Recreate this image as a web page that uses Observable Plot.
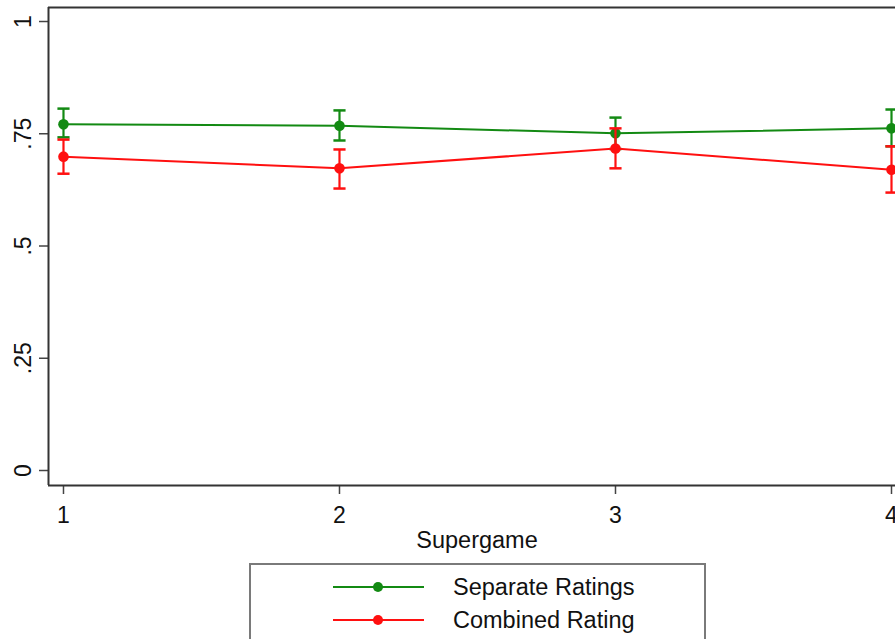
<!DOCTYPE html>
<html>
<head>
<meta charset="utf-8">
<script src="https://cdn.jsdelivr.net/npm/d3@7"></script>
<script src="https://cdn.jsdelivr.net/npm/@observablehq/plot@0.6"></script>
<style>
  html, body { margin: 0; padding: 0; background: white; }
  body { width: 895px; height: 639px; overflow: hidden; font-family: "Liberation Sans", Arial, sans-serif; }
  #legend { margin-left: 249px; margin-top: 8px; width: 457px; height: 100px; border: 2px solid #7a7a7a; box-sizing: border-box; position: relative; }
  .item { position: absolute; left: 82px; height: 30px; display: flex; align-items: center; font-size: 23.5px; color: #111; }
  .item svg { margin-right: 29px; }
</style>
</head>
<body>
<div id="chart"></div>
<div id="legend"></div>
<script>
const supergame = [1, 2, 3, 4];
const seriesNames = ["Separate Ratings", "Combined Rating"];
const seriesColors = ["#138a13", "#ff1010"];
const sepMean = [0.771, 0.768, 0.751, 0.762];
const sepLo   = [0.742, 0.735, 0.716, 0.722];
const sepHi   = [0.806, 0.802, 0.786, 0.804];
const combMean = [0.699, 0.673, 0.717, 0.670];
const combLo   = [0.661, 0.628, 0.673, 0.619];
const combHi   = [0.737, 0.715, 0.762, 0.722];
const yTicks = [0, 0.25, 0.5, 0.75, 1];
const yTickLabels = ["0", ".25", ".5", ".75", "1"];
const xTicks = [1, 2, 3, 4];
const xLabel = "Supergame";

const xDomain = [0.9457, 4.0145];
const yDomain = [-0.0334, 1.0312];

function rows(means, los, his, name) {
  return supergame.map((g, i) => ({g, m: means[i], lo: los[i], hi: his[i], series: name}));
}
const sep = rows(sepMean, sepLo, sepHi, seriesNames[0]);
const comb = rows(combMean, combLo, combHi, seriesNames[1]);
const capHalf = 0.022;

function seriesMarks(data, color) {
  return [
    Plot.line(data, {x: "g", y: "m", stroke: color, strokeWidth: 2}),
    Plot.ruleX(data, {x: "g", y1: "lo", y2: "hi", stroke: color, strokeWidth: 2.2}),
    Plot.link(data, {x1: d => d.g - capHalf, x2: d => d.g + capHalf, y1: "hi", y2: "hi", stroke: color, strokeWidth: 2.5}),
    Plot.link(data, {x1: d => d.g - capHalf, x2: d => d.g + capHalf, y1: "lo", y2: "lo", stroke: color, strokeWidth: 2.5}),
    Plot.dot(data, {x: "g", y: "m", fill: color, r: 5.3})
  ];
}

const chart = Plot.plot({
  width: 895,
  height: 555,
  marginLeft: 48,
  marginRight: 0,
  marginTop: 7,
  marginBottom: 70,
  style: {fontFamily: "'Liberation Sans', Arial, sans-serif", fontSize: "23px", background: "white", color: "#111"},
  x: {domain: xDomain},
  y: {domain: yDomain},
  marks: [
    Plot.axisX({ticks: xTicks, tickSize: 9, tickPadding: 12, tickFormat: d => String(d), label: null, stroke: "#444", strokeWidth: 1.5, fill: "#111", fontSize: 23}),
    Plot.axisY({ticks: yTicks, tickSize: 9, tickPadding: 9, tickRotate: -90, tickFormat: d => yTickLabels[yTicks.indexOf(d)], label: null, stroke: "#444", strokeWidth: 1.5, fill: "#111", fontSize: 23}),
    Plot.text([xLabel], {frameAnchor: "bottom", dx: 5, dy: 55, text: d => d, lineAnchor: "middle", fontSize: 23.5, fill: "#111"}),
    Plot.ruleX([xDomain[0]], {stroke: "#333", strokeWidth: 2}),
    Plot.ruleY([yDomain[1]], {stroke: "#333", strokeWidth: 2}),
    Plot.ruleY([yDomain[0]], {stroke: "#333", strokeWidth: 2}),
    ...seriesMarks(sep, seriesColors[0]),
    ...seriesMarks(comb, seriesColors[1])
  ]
});
document.getElementById("chart").appendChild(chart);

const legend = document.getElementById("legend");
seriesNames.forEach((name, i) => {
  const item = document.createElement("div");
  item.className = "item";
  item.style.top = (i === 0 ? 7 : 40) + "px";
  item.innerHTML = `<svg width="91" height="12"><line x1="0" y1="6" x2="91" y2="6" stroke="${seriesColors[i]}" stroke-width="2"/><circle cx="45" cy="6" r="5" fill="${seriesColors[i]}"/></svg><span>${name}</span>`;
  legend.appendChild(item);
});
</script>
</body>
</html>
